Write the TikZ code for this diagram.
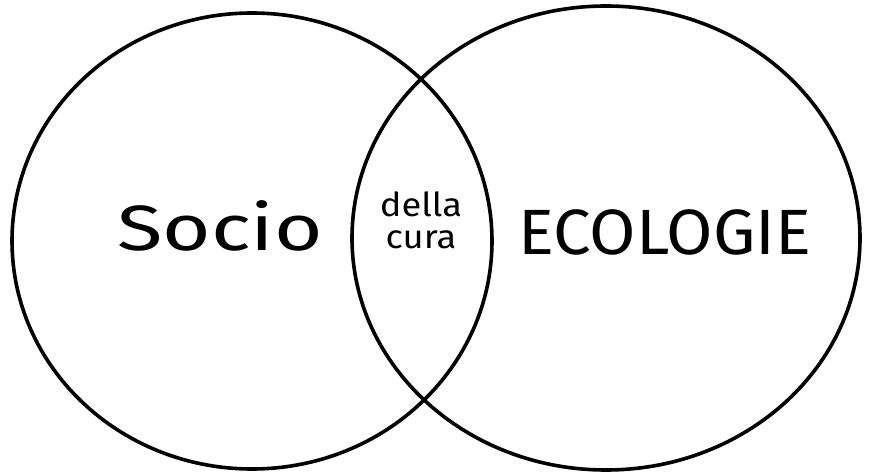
\documentclass[tikz,border=0pt]{standalone}
\usepackage{fontspec}
\setmainfont{Fira Sans}
\usepackage{tikz}
\usetikzlibrary{shapes,positioning}

\begin{document}
\begin{tikzpicture}[
    x=1pt, y=-1pt,
    set/.style={ellipse, draw=black, line width=3.6pt, inner sep=0pt},
    label/.style={text=black, align=center, inner sep=0pt},
    biglabel/.style={label, font=\fontsize{64}{70}\selectfont},
    smalllabel/.style={label, font=\fontsize{33}{32}\selectfont}
]
    \useasboundingbox (0,0) rectangle (871,476);
    % Sets
    \node[set, minimum width=480pt, minimum height=456pt] (left) at (252,241) {};
    \node[set, minimum width=508pt, minimum height=464pt] (right) at (606,238) {};

    % Labels
    \node[biglabel, xscale=1.3] (socio) at (220,226) {Socio};
    \node[biglabel, xscale=1.05] (ecologie) at (665,232) {ECOLOGIE};
    \node[smalllabel, xscale=1.1] (cura) at (421,220) {della\\cura};
\end{tikzpicture}
\end{document}
